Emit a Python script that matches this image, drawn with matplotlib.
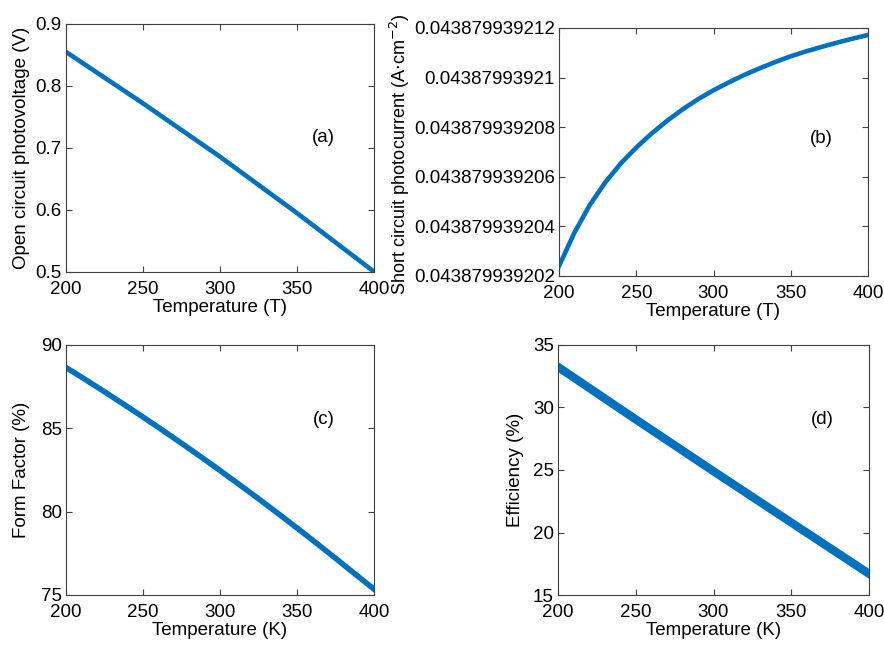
import matplotlib
matplotlib.use("Agg")
import matplotlib.pyplot as plt
import numpy as np

plt.rcParams['font.family'] = ['Liberation Sans', 'DejaVu Sans']

# Panel (a): open circuit photovoltage
T_a = [200, 250, 300, 350, 400]
voc = [0.855, 0.772, 0.686, 0.595, 0.5005]

# Panel (b): short circuit photocurrent (A/cm^2)
T_b = [200, 210, 220, 230, 240, 250, 260, 270, 280, 290, 300, 310, 320,
       330, 340, 350, 360, 370, 380, 390, 400]
jsc = [0.04387993920240, 0.04387993920375, 0.04387993920487, 0.04387993920578,
       0.04387993920654, 0.04387993920718, 0.04387993920775, 0.04387993920826,
       0.04387993920872, 0.04387993920913, 0.04387993920949, 0.04387993920981,
       0.04387993921011, 0.04387993921038, 0.04387993921063, 0.04387993921086,
       0.04387993921106, 0.04387993921124, 0.04387993921141, 0.04387993921157,
       0.04387993921172]
jsc_ticks = [0.043879939202, 0.043879939204, 0.043879939206, 0.043879939208,
             0.043879939210, 0.043879939212]
jsc_labels = ['0.043879939202', '0.043879939204', '0.043879939206',
              '0.043879939208', '0.04387993921', '0.043879939212']

# Panel (c): form factor
T_c = [200, 212.5, 225, 237.5, 250, 262.5, 275, 287.5, 300, 312.5, 325,
       337.5, 350, 362.5, 375, 387.5, 400]
ff = [88.65, 87.93, 87.195, 86.445, 85.68, 84.90, 84.105, 83.295, 82.47,
      81.63, 80.775, 79.905, 79.02, 78.12, 77.205, 76.275, 75.35]

# Panel (d): efficiency
T_d = [200, 250, 300, 350, 400]
eff = [33.25, 29.05, 24.9, 20.8, 16.7]

color = '#0072BD'
W, H = 884, 645
fig = plt.figure(figsize=(W / 100, H / 100), dpi=100)

def add_ax(l, r, t, b):
    return fig.add_axes([l / W, 1 - b / H, (r - l) / W, (b - t) / H])

axes = [add_ax(66, 374, 24, 272), add_ax(559, 868, 28, 276),
        add_ax(66, 374, 345, 595), add_ax(558, 869, 345, 595)]

edge = '#404040'
FS_T = 13.5
FS_L = 13.5
for ax in axes:
    for s in ax.spines.values():
        s.set_color(edge)
        s.set_linewidth(0.8)
    ax.tick_params(direction='in', length=4, width=0.8, color=edge,
                   top=True, right=True, labelsize=FS_T, labelcolor='black')
    ax.tick_params(axis='x', pad=6.5)
    ax.tick_params(axis='y', pad=3)
    ax.set_xlim(200, 400)
    ax.set_xticks([200, 250, 300, 350, 400])

ax = axes[0]
ax.plot(T_a, voc, color=color, lw=3.3)
ax.set_ylim(0.5, 0.9)
ax.set_yticks([0.5, 0.6, 0.7, 0.8, 0.9])
ax.set_yticklabels(['0.5', '0.6', '0.7', '0.8', '0.9'])
ax.set_xlabel('Temperature (T)', fontsize=FS_L, labelpad=1)
ax.set_ylabel('Open circuit photovoltage (V)', fontsize=FS_L)
ax.yaxis.set_label_coords(-0.118, 0.5)
ax.text(0.837, 0.544, '(a)', transform=ax.transAxes, ha='center', va='center', fontsize=FS_L)

ax = axes[1]
ax.plot(T_b, jsc, color=color, lw=3.3)
ax.set_ylim(jsc_ticks[0], jsc_ticks[-1])
ax.set_yticks(jsc_ticks)
ax.set_yticklabels(jsc_labels)
ax.set_xlabel('Temperature (T)', fontsize=FS_L, labelpad=1)
ax.set_ylabel('Short circuit photocurrent (A$\\cdot$cm$^{-2}$)', fontsize=13.1)
ax.yaxis.set_label_coords(-0.477, 0.49)
ax.text(0.85, 0.555, '(b)', transform=ax.transAxes, ha='center', va='center', fontsize=FS_L)

ax = axes[2]
ax.plot(T_c, ff, color=color, lw=4.0)
ax.set_ylim(75, 90)
ax.set_yticks([75, 80, 85, 90])
ax.set_xlabel('Temperature (K)', fontsize=FS_L, labelpad=1)
ax.set_ylabel('Form Factor (%)', fontsize=FS_L)
ax.yaxis.set_label_coords(-0.118, 0.5)
ax.text(0.837, 0.70, '(c)', transform=ax.transAxes, ha='center', va='center', fontsize=FS_L)

ax = axes[3]
ax.plot(T_d, eff, color=color, lw=6.0)
ax.set_ylim(15, 35)
ax.set_yticks([15, 20, 25, 30, 35])
ax.set_xlabel('Temperature (K)', fontsize=FS_L, labelpad=1)
ax.set_ylabel('Efficiency (%)', fontsize=FS_L)
ax.yaxis.set_label_coords(-0.109, 0.5)
ax.text(0.85, 0.70, '(d)', transform=ax.transAxes, ha='center', va='center', fontsize=FS_L)

fig.savefig('out.png', dpi=100)
